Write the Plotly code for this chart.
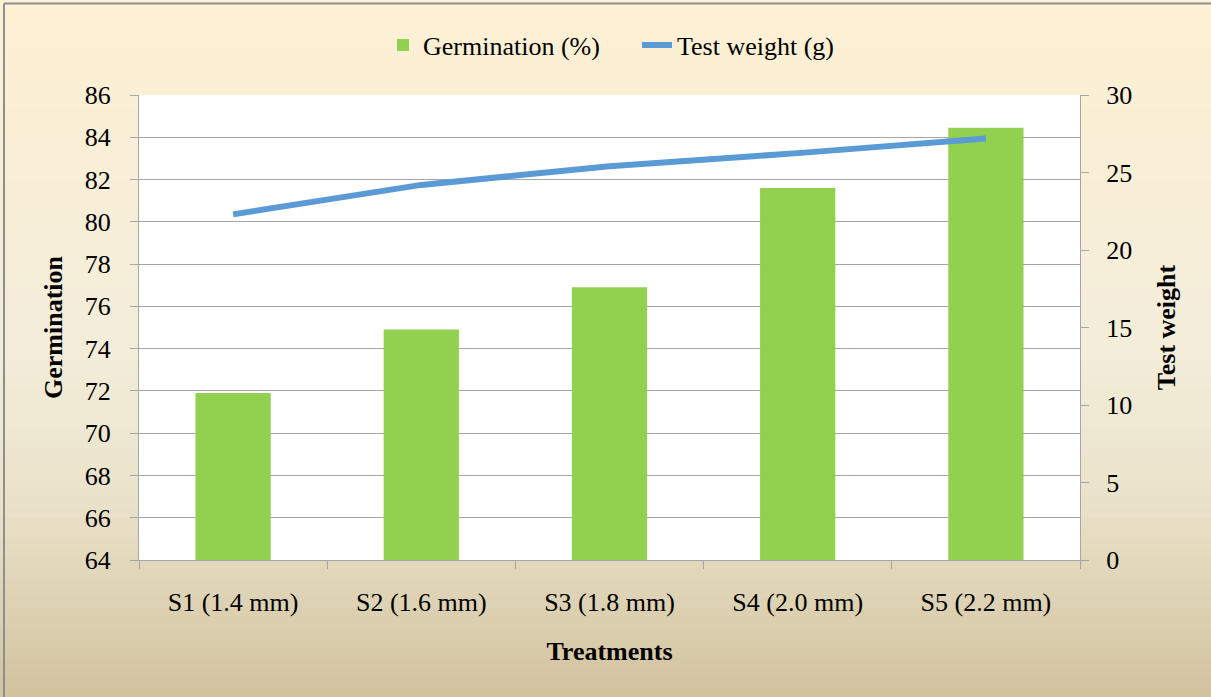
import plotly.graph_objects as go

categories = ["S1 (1.4 mm)", "S2 (1.6 mm)", "S3 (1.8 mm)", "S4 (2.0 mm)", "S5 (2.2 mm)"]
germination = [71.9, 74.9, 76.9, 81.6, 84.45]
test_weight = [22.3, 24.2, 25.4, 26.25, 27.2]
left_ticks = list(range(64, 87, 2))
right_ticks = list(range(0, 31, 5))

W, H = 1211, 697
L, R, T, B = 139, 131, 95, 137
PW, PH = W - L - R, H - T - B

def xp(px):
    return (px - L) / PW

def yp(py):
    return (H - B - py) / PH

FONT = "Liberation Serif"
FS = 26

fig = go.Figure()
fig.add_trace(go.Bar(
    x=categories, y=germination, name="Germination (%)",
    marker=dict(color="#92D050", line=dict(width=0)),
    yaxis="y",
))
fig.add_trace(go.Scatter(
    x=categories, y=test_weight, name="Test weight (g)", mode="lines",
    line=dict(color="#5B9BD5", width=6),
    yaxis="y2",
))

# background gradient
stops = [(0, (254, 240, 211)), (350, (243, 237, 218)), (500, (234, 226, 202)), (697, (210, 195, 159))]
def col(py):
    for (a, ca), (b, cb) in zip(stops[:-1], stops[1:]):
        if a <= py <= b:
            t = (py - a) / (b - a)
            return "rgb(%d,%d,%d)" % tuple(round(ca[i] + (cb[i] - ca[i]) * t) for i in range(3))
    return "rgb(%d,%d,%d)" % stops[-1][1]

shapes = []
n = 70
step = H / n
for i in range(n):
    y0 = i * step
    y1 = (i + 1) * step + 1
    shapes.append(dict(type="rect", xref="paper", yref="paper", layer="below",
                       x0=xp(-5), x1=xp(W + 5), y0=yp(y1), y1=yp(y0),
                       fillcolor=col((y0 + y1) / 2), line=dict(width=0)))
# white plot area
shapes.append(dict(type="rect", xref="paper", yref="paper", layer="below",
                   x0=0, x1=1, y0=0, y1=1, fillcolor="white", line=dict(width=0)))
# outer border
shapes.append(dict(type="line", xref="paper", yref="paper", layer="above",
                   x0=xp(4), x1=xp(W + 5), y0=yp(3.5), y1=yp(3.5),
                   line=dict(color="#8F8F8F", width=2)))
shapes.append(dict(type="line", xref="paper", yref="paper", layer="above",
                   x0=xp(4), x1=xp(4), y0=yp(3.5), y1=yp(H + 5),
                   line=dict(color="#8F8F8F", width=2)))

axis_common = dict(
    showline=True, linecolor="#A6A6A6", linewidth=1,
    ticks="outside", ticklen=8, tickcolor="#A6A6A6",
    tickfont=dict(family=FONT, size=FS, color="black"),
    zeroline=False,
)
title_font = dict(family=FONT, size=FS, color="black")

fig.update_layout(
    width=W, height=H,
    margin=dict(l=L, r=R, t=T, b=B, autoexpand=False),
    paper_bgcolor="rgba(0,0,0,0)",
    plot_bgcolor="white",
    font=dict(family=FONT, size=FS, color="black"),
    bargap=0.6,
    showlegend=True,
    legend=dict(orientation="h", x=xp(383), xanchor="left", y=yp(45), yanchor="middle",
                bgcolor="rgba(0,0,0,0)", font=dict(family=FONT, size=FS, color="black"),
                itemwidth=30, entrywidth=209, entrywidthmode="pixels"),
    xaxis=dict(
        type="category", tickson="boundaries", showgrid=False,
        title=dict(text="<b>Treatments</b>", font=title_font, standoff=25),
        ticklabelstandoff=19,
        **axis_common,
    ),
    yaxis=dict(
        range=[64, 86], tickvals=left_ticks, showgrid=True, gridcolor="#A6A6A6", gridwidth=1,
        title=dict(text="<b>Germination</b>", font=title_font, standoff=14),
        ticklabelstandoff=14,
        **axis_common,
    ),
    yaxis2=dict(
        range=[0, 30], tickvals=right_ticks, overlaying="y", side="right", showgrid=False,
        title=dict(text="<b>Test weight</b>", font=title_font, standoff=25),
        ticklabelstandoff=12,
        **axis_common,
    ),
    shapes=shapes,
)

fig.write_html("out.html", config={"displayModeBar": False},
               post_script="document.body.style.margin='0';document.body.style.overflow='hidden';")
